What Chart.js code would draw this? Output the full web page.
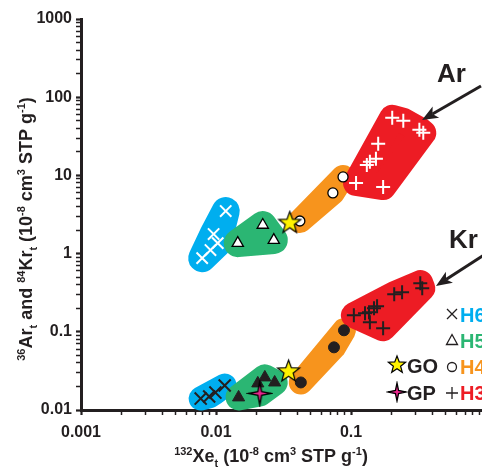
<!DOCTYPE html>
<html>
<head>
<meta charset="utf-8">
<script src="https://cdn.jsdelivr.net/npm/chart.js@4.4.1/dist/chart.umd.min.js"></script>
<style>
  html, body { margin: 0; padding: 0; overflow: hidden; background: #fff; }
  #caixa { position: absolute; left: 0; top: 0; width: 500px; height: 470px; }
</style>
</head>
<body>
<div id="caixa"><canvas id="grafico" width="500" height="470"></canvas></div>
<script>
// Valores (x = 132Xe, y = 36Ar ou 84Kr), unidades 10^-8 cm3 STP/g
const arH6X = [0.0118, 0.0096, 0.0103, 0.0091, 0.0079];
const arH6Y = [3.5, 1.78, 1.36, 1.11, 0.875];
const arH5X = [0.0222, 0.0145, 0.0268];
const arH5Y = [2.32, 1.36, 1.49];
const arH4X = [0.0418, 0.0734, 0.0873];
const arH4Y = [2.61, 5.97, 9.57];
const arH3X = [0.202, 0.244, 0.321, 0.343, 0.159, 0.153, 0.138, 0.131, 0.109, 0.173];
const arH3Y = [54.6, 50, 38.3, 35, 25.4, 16.3, 14.9, 13.6, 8.0, 7.1];

const krH6X = [0.0077, 0.0089, 0.0099, 0.0116];
const krH6Y = [0.0140, 0.0149, 0.0167, 0.0206];
const krH5X = [0.0147, 0.0204, 0.0230, 0.0272];
const krH5Y = [0.0145, 0.0219, 0.0261, 0.0225];
const krH4X = [0.0425, 0.0748, 0.0887];
const krH4Y = [0.0225, 0.0633, 0.1045];
const krH3X = [0.105, 0.127, 0.136, 0.148, 0.156, 0.138, 0.173, 0.209, 0.239, 0.326, 0.337];
const krH3Y = [0.163, 0.173, 0.178, 0.200, 0.212, 0.132, 0.111, 0.303, 0.321, 0.419, 0.361];

const goX = [0.0352, 0.0345];
const goY = [2.46, 0.031];
const gpX = [0.0211];
const gpY = [0.0163];

// Eixos
const decadasX = [0.001, 0.01, 0.1, 1];
const rotulosX = ['0.001', '0.01', '0.1', '1'];
const decadasY = [0.01, 0.1, 1, 10, 100, 1000];
const rotulosY = ['0.01', '0.1', '1', '10', '100', '1000'];

const FONTE = "'Liberation Sans', Arial, sans-serif";
const PRETO = '#231F20';
const CIANO = '#00AEEF', VERDE = '#2BB673', LARANJA = '#F7941D', VERMELHO = '#ED1C24';

const pares = (xs, ys) => xs.map((x, i) => ({ x: x, y: ys[i] }));

// Estrelas desenhadas num canvas à parte, usadas como pointStyle
function estrela(pontas, rExt, rInt, cor, borda) {
    const tam = Math.ceil(rExt * 2 + 4);
    const c = document.createElement('canvas');
    c.width = c.height = tam;
    const g = c.getContext('2d');
    g.translate(tam / 2, tam / 2);
    g.beginPath();
    for (let i = 0; i < pontas * 2; i++) {
        const r = i % 2 ? rInt : rExt;
        const a = -Math.PI / 2 + i * Math.PI / pontas;
        g.lineTo(r * Math.cos(a), r * Math.sin(a));
    }
    g.closePath();
    g.fillStyle = cor;
    g.fill();
    g.lineWidth = borda;
    g.strokeStyle = '#000';
    g.lineJoin = 'miter';
    g.stroke();
    return c;
}
const estrelaGO = estrela(5, 11.5, 4.8, '#FFF200', 1.2);
const estrelaGP = estrela(4, 11.5, 2.6, '#EC268F', 1.4);
const estrelaGOleg = estrela(5, 9, 3.8, '#FFF200', 1.2);
const estrelaGPleg = estrela(4, 9, 2.2, '#EC268F', 1.3);

const ehDecada = v => Math.abs(Math.log10(v) - Math.round(Math.log10(v))) < 1e-9;

function ticksLog(decadas) {
    return function (escala) {
        const lista = [];
        decadas.forEach((d, i) => {
            for (let m = 1; m <= 9; m++) {
                if (i === decadas.length - 1 && m > 1) break;
                lista.push({ value: m * d });
            }
        });
        escala.ticks = lista;
    };
}
function rotulo(decadas, rotulos) {
    return function (v) {
        if (!ehDecada(v)) return '';
        const i = decadas.findIndex(d => Math.abs(Math.log10(d) - Math.log10(v)) < 1e-9);
        return i >= 0 ? rotulos[i] : '';
    };
}

// Fecho convexo (para desenhar as manchas coloridas em volta de cada grupo)
function casco(pontos) {
    const p = pontos.slice().sort((a, b) => a.x - b.x || a.y - b.y);
    if (p.length < 3) return p;
    const cruz = (o, a, b) => (a.x - o.x) * (b.y - o.y) - (a.y - o.y) * (b.x - o.x);
    const baixo = [];
    for (const q of p) {
        while (baixo.length >= 2 && cruz(baixo[baixo.length - 2], baixo[baixo.length - 1], q) <= 0) baixo.pop();
        baixo.push(q);
    }
    const cima = [];
    for (let i = p.length - 1; i >= 0; i--) {
        const q = p[i];
        while (cima.length >= 2 && cruz(cima[cima.length - 2], cima[cima.length - 1], q) <= 0) cima.pop();
        cima.push(q);
    }
    cima.pop(); baixo.pop();
    return baixo.concat(cima);
}

// margem = meia largura da borda arredondada em volta do grupo
const manchas = [
    { cor: CIANO, grupos: ['Ar H6'], margem: 14 },
    { cor: VERDE, grupos: ['Ar H5'], margem: 14 },
    { cor: LARANJA, grupos: ['Ar H4'], margem: 12 },
    { cor: VERMELHO, grupos: ['Ar H3'], margem: 13 },
    { cor: CIANO, grupos: ['Kr H6'], margem: 12 },
    { cor: VERDE, grupos: ['Kr H5', 'GP'], margem: 13 },
    { cor: LARANJA, grupos: ['Kr H4'], margem: 12 },
    { cor: VERMELHO, grupos: ['Kr H3'], margem: 13 }
];

const pluginManchas = {
    id: 'manchas',
    beforeDatasetsDraw(chart) {
        const ctx = chart.ctx;
        ctx.save();
        manchas.forEach(m => {
            let pts = [];
            m.grupos.forEach(nome => {
                const idx = chart.data.datasets.findIndex(d => d.label === nome);
                chart.getDatasetMeta(idx).data.forEach(el => pts.push({ x: el.x, y: el.y }));
            });
            const h = casco(pts);
            ctx.beginPath();
            h.forEach((q, i) => i ? ctx.lineTo(q.x, q.y) : ctx.moveTo(q.x, q.y));
            ctx.closePath();
            ctx.fillStyle = m.cor;
            ctx.strokeStyle = m.cor;
            ctx.lineWidth = m.margem * 2;
            ctx.lineJoin = 'round';
            ctx.lineCap = 'round';
            ctx.fill();
            ctx.stroke();
        });
        ctx.restore();
    }
};

// texto com sobrescritos / subscritos
function textoRico(ctx, partes, tam, centro) {
    const pequeno = Math.round(tam * 0.62);
    let total = 0;
    partes.forEach(p => {
        ctx.font = 'bold ' + (p[1] ? pequeno : tam) + 'px ' + FONTE;
        total += ctx.measureText(p[0]).width;
    });
    let x = centro - total / 2;
    partes.forEach(p => {
        ctx.font = 'bold ' + (p[1] ? pequeno : tam) + 'px ' + FONTE;
        const dy = p[1] === 'sup' ? -tam * 0.4 : (p[1] === 'sub' ? tam * 0.28 : 0);
        ctx.fillText(p[0], x, dy);
        x += ctx.measureText(p[0]).width;
    });
}

function seta(ctx, x1, y1, x2, y2) {
    const ang = Math.atan2(y2 - y1, x2 - x1);
    const comp = 16, larg = 6.5;
    const c = Math.cos(ang), s = Math.sin(ang);
    const bx = x2 - comp * c, by = y2 - comp * s;
    ctx.lineWidth = 3;
    ctx.beginPath();
    ctx.moveTo(x1, y1);
    ctx.lineTo(bx + 4 * c, by + 4 * s);
    ctx.stroke();
    ctx.beginPath();
    ctx.moveTo(x2, y2);
    ctx.lineTo(bx - larg * s, by + larg * c);
    ctx.lineTo(bx + 4 * c, by + 4 * s);
    ctx.lineTo(bx + larg * s, by - larg * c);
    ctx.closePath();
    ctx.fill();
}

// Anotações (em coordenadas dos dados)
const anotacoes = [
    { texto: 'Ar', x: 0.434, y: 156, setaDe: [0.918, 139], setaPara: [0.336, 51] },
    { texto: 'Kr', x: 0.532, y: 1.18, setaDe: [0.966, 0.96], setaPara: [0.426, 0.385] }
];

const legendaH = [
    { nome: 'H6', cor: CIANO, simbolo: 'x' },
    { nome: 'H5', cor: VERDE, simbolo: 'tri' },
    { nome: 'H4', cor: LARANJA, simbolo: 'o' },
    { nome: 'H3', cor: VERMELHO, simbolo: '+' }
];

const pluginTextos = {
    id: 'textos',
    afterDraw(chart) {
        const ctx = chart.ctx;
        const sx = chart.scales.x, sy = chart.scales.y;
        ctx.save();
        ctx.fillStyle = PRETO;
        ctx.strokeStyle = PRETO;
        ctx.textBaseline = 'alphabetic';

        // título do eixo y
        ctx.save();
        ctx.translate(32, 229);
        ctx.rotate(-Math.PI / 2);
        textoRico(ctx, [['36', 'sup'], ['Ar'], ['t', 'sub'], [' and '], ['84', 'sup'], ['Kr'], ['t', 'sub'],
            [' (10'], ['-8', 'sup'], [' cm'], ['3', 'sup'], [' STP g'], ['-1', 'sup'], [')']], 18, 0);
        ctx.restore();

        // título do eixo x
        ctx.save();
        ctx.translate(0, 462);
        textoRico(ctx, [['132', 'sup'], ['Xe'], ['t', 'sub'], [' (10'], ['-8', 'sup'], [' cm'], ['3', 'sup'],
            [' STP g'], ['-1', 'sup'], [')']], 18, 271);
        ctx.restore();

        // Ar / Kr com setas
        anotacoes.forEach(a => {
            ctx.font = 'bold 26px ' + FONTE;
            ctx.textAlign = 'left';
            ctx.fillText(a.texto, sx.getPixelForValue(a.x), sy.getPixelForValue(a.y));
            seta(ctx, sx.getPixelForValue(a.setaDe[0]), sy.getPixelForValue(a.setaDe[1]),
                sx.getPixelForValue(a.setaPara[0]), sy.getPixelForValue(a.setaPara[1]));
        });

        // legenda
        const y0 = 314, passo = 26, xs = 452;
        ctx.lineWidth = 1.3;
        legendaH.forEach((l, i) => {
            const y = y0 + passo * i;
            ctx.beginPath();
            if (l.simbolo === 'x') {
                ctx.moveTo(xs - 5, y - 5); ctx.lineTo(xs + 5, y + 5);
                ctx.moveTo(xs + 5, y - 5); ctx.lineTo(xs - 5, y + 5);
            } else if (l.simbolo === 'tri') {
                ctx.moveTo(xs, y - 5.5); ctx.lineTo(xs + 5.5, y + 4.5); ctx.lineTo(xs - 5.5, y + 4.5); ctx.closePath();
            } else if (l.simbolo === 'o') {
                ctx.arc(xs, y + 1, 4.5, 0, Math.PI * 2);
            } else {
                ctx.moveTo(xs - 6, y + 1); ctx.lineTo(xs + 6, y + 1);
                ctx.moveTo(xs, y - 5); ctx.lineTo(xs, y + 7);
            }
            ctx.stroke();
            ctx.font = 'bold 20px ' + FONTE;
            ctx.fillStyle = l.cor;
            ctx.fillText(l.nome, 460, y + 8);
        });
        ctx.fillStyle = PRETO;
        ctx.drawImage(estrelaGOleg, 397 - estrelaGOleg.width / 2, 365 - estrelaGOleg.height / 2);
        ctx.drawImage(estrelaGPleg, 397 - estrelaGPleg.width / 2, 392 - estrelaGPleg.height / 2);
        ctx.font = 'bold 20px ' + FONTE;
        ctx.fillText('GO', 407, 373);
        ctx.fillText('GP', 407, 400);
        ctx.restore();
    }
};

const eixo = (decadas, rotulos) => ({
    type: 'logarithmic',
    min: decadas[0],
    max: decadas[decadas.length - 1],
    afterBuildTicks: ticksLog(decadas),
    ticks: {
        autoSkip: false,
        maxRotation: 0,
        color: PRETO,
        font: { family: FONTE, size: 16, weight: 'bold' },
        callback: rotulo(decadas, rotulos)
    },
    grid: {
        drawOnChartArea: false,
        drawTicks: true,
        tickLength: 5,
        tickColor: PRETO,
        tickWidth: c => (c.tick && ehDecada(c.tick.value)) ? 2.2 : 1.5
    },
    border: { display: true, color: PRETO, width: 3 }
});

const escalaX = eixo(decadasX, rotulosX);
escalaX.ticks.padding = 8;
escalaX.afterFit = s => { s.height = 60; };
const escalaY = eixo(decadasY, rotulosY);
escalaY.ticks.padding = 4;
escalaY.afterFit = s => { s.width = 81; };

const ctx = document.getElementById('grafico').getContext('2d');
new Chart(ctx, {
    type: 'scatter',
    data: {
        datasets: [
            { label: 'GO', data: pares(goX, goY), pointStyle: estrelaGO },
            { label: 'GP', data: pares(gpX, gpY), pointStyle: estrelaGP },
            { label: 'Ar H6', data: pares(arH6X, arH6Y), pointStyle: 'crossRot', radius: 8, borderColor: '#fff', borderWidth: 2 },
            { label: 'Ar H5', data: pares(arH5X, arH5Y), pointStyle: 'triangle', radius: 6.5, backgroundColor: '#fff', borderColor: '#000', borderWidth: 1.3 },
            { label: 'Ar H4', data: pares(arH4X, arH4Y), pointStyle: 'circle', radius: 5, backgroundColor: '#fff', borderColor: '#000', borderWidth: 1.3 },
            { label: 'Ar H3', data: pares(arH3X, arH3Y), pointStyle: 'cross', radius: 7, borderColor: '#fff', borderWidth: 2 },
            { label: 'Kr H6', data: pares(krH6X, krH6Y), pointStyle: 'crossRot', radius: 8.5, borderColor: PRETO, borderWidth: 2 },
            { label: 'Kr H5', data: pares(krH5X, krH5Y), pointStyle: 'triangle', radius: 7, backgroundColor: PRETO, borderColor: PRETO, borderWidth: 1 },
            { label: 'Kr H4', data: pares(krH4X, krH4Y), pointStyle: 'circle', radius: 5.5, backgroundColor: PRETO, borderColor: PRETO, borderWidth: 1 },
            { label: 'Kr H3', data: pares(krH3X, krH3Y), pointStyle: 'cross', radius: 7, borderColor: PRETO, borderWidth: 2 }
        ]
    },
    options: {
        responsive: false,
        animation: false,
        devicePixelRatio: 1,
        events: [],
        layout: { padding: { top: 19, right: 14, left: 0, bottom: 0 } },
        plugins: { legend: { display: false }, tooltip: { enabled: false } },
        scales: { x: escalaX, y: escalaY }
    },
    plugins: [pluginManchas, pluginTextos]
});
</script>
</body>
</html>
